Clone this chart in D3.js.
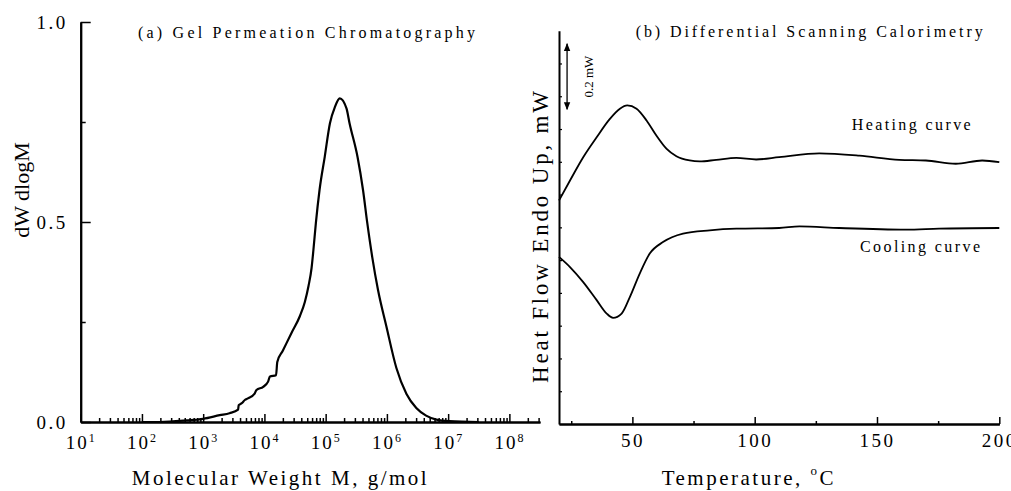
<!DOCTYPE html>
<html>
<head>
<meta charset="utf-8">
<script src="https://cdn.jsdelivr.net/npm/d3@7"></script>
<style>
  html, body { margin: 0; padding: 0; background: #fff; overflow: hidden; }
  svg { display: block; }
  text { font-family: "Liberation Serif", "Times New Roman", serif; fill: #000; }
</style>
</head>
<body>
<svg id="fig" width="1011" height="491"></svg>
<script>
// ---- (a) GPC: molecular weight distribution ----
const gpcLogM = [2.0, 2.29, 2.73, 3.00, 3.27, 3.43, 3.57, 3.58, 3.63, 3.68, 3.73, 3.84, 3.87, 3.98,
  4.06, 4.09, 4.19, 4.21, 4.30, 4.44, 4.58, 4.66, 4.72, 4.77, 4.80, 4.84, 4.90, 4.985, 5.07, 5.15,
  5.23, 5.34, 5.39, 5.52, 5.61, 5.68, 5.76, 5.855, 5.99, 6.155, 6.32, 6.48, 6.64, 6.81, 7.02, 7.5];
const gpcValue = [0.0, 0.0, 0.004, 0.008, 0.017, 0.022, 0.031, 0.042, 0.047, 0.055, 0.059, 0.071, 0.080, 0.088,
  0.101, 0.114, 0.117, 0.150, 0.178, 0.222, 0.265, 0.300, 0.340, 0.385, 0.430, 0.497, 0.580, 0.663, 0.747, 0.787,
  0.809, 0.784, 0.747, 0.663, 0.580, 0.497, 0.413, 0.330, 0.240, 0.135, 0.070, 0.035, 0.016, 0.006, 0.002, 0.0];
const gpcYTicks = [0, 0.5, 1.0];
const gpcYMinor = [0.25, 0.75];
const gpcXExponents = [1, 2, 3, 4, 5, 6, 7, 8];

// ---- (b) DSC: heating and cooling scans ----
const heatTemp = [20, 24.5, 29.9, 35.4, 40.8, 44.9, 47.9, 51.7, 55.8, 59.8, 63.9, 68.0, 73.4, 77.5,
  84.3, 92.5, 100.6, 110, 126.4, 142.8, 159.1, 170, 182.2, 193, 200];
const heatFlow = [0.682, 0.743, 0.814, 0.875, 0.931, 0.962, 0.972, 0.962, 0.926, 0.880, 0.840, 0.817, 0.804, 0.801,
  0.806, 0.812, 0.807, 0.814, 0.826, 0.819, 0.806, 0.804, 0.794, 0.804, 0.799];
const coolTemp = [20, 24.5, 29.9, 35.4, 39.5, 42.1, 45.6, 49.0, 53.0, 57.1, 62.5, 70.7, 81.6, 92.5,
  110, 118.3, 134.6, 161.8, 175.4, 200];
const coolFlow = [0.510, 0.479, 0.433, 0.378, 0.337, 0.324, 0.337, 0.388, 0.459, 0.520, 0.555, 0.581, 0.591, 0.596,
  0.598, 0.603, 0.598, 0.593, 0.596, 0.598];
const dscXTicks = [50, 100, 150, 200];
const dscXMinor = [25, 75, 125, 175];
const dscYTicks = [0.1, 0.2, 0.3, 0.4, 0.5, 0.6, 0.7, 0.8, 0.9, 1.0, 1.1];
const scaleBarTop = 1.16, scaleBarSpan = 0.2;   // mW

const svg = d3.select("#fig");
const SERIF = "Liberation Serif, Times New Roman, serif";

function styleAxis(sel, tickW) {
  sel.attr("font-family", SERIF);
  sel.select(".domain").attr("stroke", "#000").attr("stroke-width", 2);
  sel.selectAll(".tick line").attr("stroke", "#000").attr("stroke-width", tickW);
}

// ================= panel (a) =================
const xA = d3.scaleLog().domain([10, Math.pow(10, 8.5)]).range([80.7, 540]);
const yA = d3.scaleLinear().domain([0, 1]).range([422, 22]);

const minorA = [];
for (let e = 1; e <= 8; e++) for (let m = 2; m <= 9; m++) {
  const v = m * Math.pow(10, e);
  if (v <= Math.pow(10, 8.5)) minorA.push(v);
}
const gA = svg.append("g");

gA.append("g").attr("transform", "translate(0,422)")
  .call(d3.axisBottom(xA).tickValues(minorA).tickSizeInner(-4).tickSizeOuter(0).tickFormat(""))
  .call(s => styleAxis(s, 1.5));
const axA = gA.append("g").attr("transform", "translate(0,422)")
  .call(d3.axisBottom(xA).tickValues(gpcXExponents.map(e => Math.pow(10, e)))
    .tickSizeInner(-8).tickSizeOuter(0).tickPadding(14).tickFormat(""))
  .call(s => styleAxis(s, 1.5));
axA.selectAll(".tick text").each(function(d, i) {
  const t = d3.select(this).attr("font-size", 19).style("letter-spacing", "2px");
  t.append("tspan").text("10");
  t.append("tspan").attr("font-size", 12).attr("dy", "-0.62em").text(gpcXExponents[i]);
});

gA.append("g").attr("transform", "translate(80.7,0)")
  .call(d3.axisLeft(yA).tickValues(gpcYMinor).tickSizeInner(-5).tickSizeOuter(0).tickFormat(""))
  .call(s => styleAxis(s, 1.5));
gA.append("g").attr("transform", "translate(80.7,0)")
  .call(d3.axisLeft(yA).tickValues(gpcYTicks).tickSizeInner(-10).tickSizeOuter(0).tickPadding(13)
    .tickFormat(d3.format(".1f")))
  .call(s => styleAxis(s, 1.5))
  .call(s => s.selectAll(".tick text").attr("font-size", 19).style("letter-spacing", "2.5px"));

gA.append("path")
  .datum(gpcLogM.map((l, i) => [Math.pow(10, l), gpcValue[i]]))
  .attr("fill", "none").attr("stroke", "#000").attr("stroke-width", 2.2)
  .attr("stroke-linejoin", "round")
  .attr("d", d3.line().x(d => xA(d[0])).y(d => yA(d[1])).curve(d3.curveMonotoneX));

gA.append("text").attr("x", 138).attr("y", 38).attr("font-size", 16)
  .attr("textLength", 337).attr("lengthAdjust", "spacing")
  .text("(a) Gel Permeation Chromatography");
gA.append("text").attr("x", 131.7).attr("y", 485).attr("font-size", 21)
  .attr("textLength", 295).attr("lengthAdjust", "spacing")
  .text("Molecular Weight M, g/mol");
gA.append("text").attr("transform", "translate(29,190) rotate(-90)")
  .attr("text-anchor", "middle").attr("font-size", 22)
  .text("dW dlogM");

// ================= panel (b) =================
const xB = d3.scaleLinear().domain([20, 200]).range([559, 999.3]);
const yB = d3.scaleLinear().domain([0, 1.2]).range([424, 30.7]);
const gB = svg.append("g");

gB.append("g").attr("transform", "translate(0,424)")
  .call(d3.axisBottom(xB).tickValues(dscXMinor).tickSizeInner(-3).tickSizeOuter(0).tickFormat(""))
  .call(s => styleAxis(s, 1.5));
gB.append("g").attr("transform", "translate(0,424)")
  .call(d3.axisBottom(xB).tickValues(dscXTicks).tickSizeInner(-7).tickSizeOuter(0).tickPadding(10)
    .tickFormat(d3.format("d")))
  .call(s => styleAxis(s, 1.5))
  .call(s => s.selectAll(".tick text").attr("font-size", 19).style("letter-spacing", "2.5px"));
gB.append("g").attr("transform", "translate(559,0)")
  .call(d3.axisLeft(yB).tickValues(dscYTicks).tickSizeInner(-3).tickSizeOuter(0).tickFormat(""))
  .call(s => styleAxis(s, 1.2));

const lineB = d3.line().x(d => xB(d[0])).y(d => yB(d[1])).curve(d3.curveMonotoneX);
gB.append("path").datum(heatTemp.map((t, i) => [t, heatFlow[i]]))
  .attr("fill", "none").attr("stroke", "#000").attr("stroke-width", 1.8).attr("d", lineB);
gB.append("path").datum(coolTemp.map((t, i) => [t, coolFlow[i]]))
  .attr("fill", "none").attr("stroke", "#000").attr("stroke-width", 1.8).attr("d", lineB);

// 0.2 mW scale bar
const defs = svg.append("defs");
defs.append("marker").attr("id", "head").attr("viewBox", "0 0 10 10")
  .attr("refX", 9).attr("refY", 5).attr("markerWidth", 8).attr("markerHeight", 8)
  .attr("markerUnits", "userSpaceOnUse").attr("orient", "auto-start-reverse")
  .append("path").attr("d", "M0,1 L10,5 L0,9 Z").attr("fill", "#000");
const barX = xB(23.3);
gB.append("line").attr("x1", barX).attr("x2", barX)
  .attr("y1", yB(scaleBarTop)).attr("y2", yB(scaleBarTop - scaleBarSpan))
  .attr("stroke", "#000").attr("stroke-width", 1.3)
  .attr("marker-start", "url(#head)").attr("marker-end", "url(#head)");
gB.append("text")
  .attr("transform", `translate(${barX + 26},${yB(scaleBarTop - scaleBarSpan / 2)}) rotate(-90)`)
  .attr("text-anchor", "middle").attr("font-size", 13).text("0.2 mW");

gB.append("text").attr("x", 635.7).attr("y", 37).attr("font-size", 16)
  .attr("textLength", 347).attr("lengthAdjust", "spacing")
  .text("(b) Differential Scanning Calorimetry");
gB.append("text").attr("x", 851.7).attr("y", 130).attr("font-size", 16)
  .attr("textLength", 119).attr("lengthAdjust", "spacing").text("Heating curve");
gB.append("text").attr("x", 860).attr("y", 252).attr("font-size", 16)
  .attr("textLength", 120).attr("lengthAdjust", "spacing").text("Cooling curve");

const tLab = gB.append("text").attr("x", 661.7).attr("y", 485).attr("font-size", 21)
  .style("letter-spacing", "2.5px");
tLab.append("tspan").text("Temperature, ");
tLab.append("tspan").attr("font-size", 13).attr("dy", "-0.75em").text("o");
tLab.append("tspan").attr("dy", "0.47em").text("C");

gB.append("text").attr("transform", "translate(548,237) rotate(-90)")
  .attr("text-anchor", "middle").attr("font-size", 23)
  .attr("textLength", 292).attr("lengthAdjust", "spacing")
  .text("Heat Flow Endo Up, mW");
</script>
</body>
</html>
